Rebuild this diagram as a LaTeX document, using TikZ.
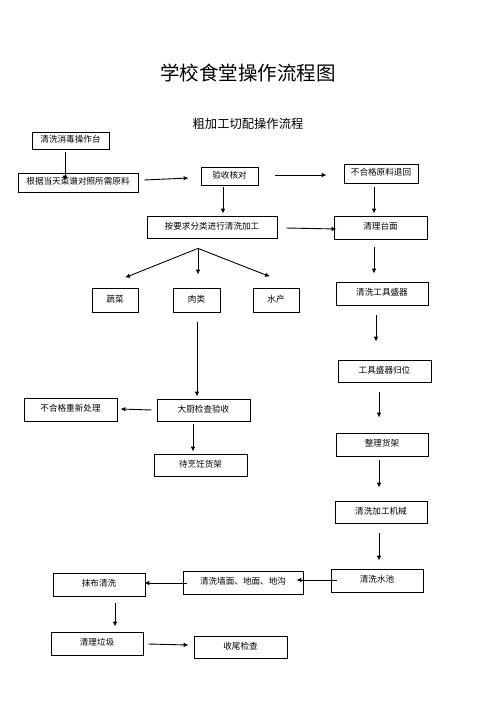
\documentclass[tikz,border=0pt]{standalone}
\usepackage{fontspec}
\newfontfamily\cjk{Noto Sans CJK SC}
\usetikzlibrary{arrows.meta}
\tikzset{
  box/.style={draw, line width=0.8pt, inner sep=0pt, font=\cjk\fontsize{8.6}{10}\selectfont,
    text height=7pt, text depth=3pt},
  arr/.style={line width=0.9pt, -{Latex[length=5pt,width=4.5pt]}},
}
\begin{document}
\begin{tikzpicture}[x=1pt,y=-1pt]
\useasboundingbox (0,0) rectangle (496,702);
\node[font=\cjk\fontsize{19.5}{22}\selectfont] (title) at (248,73) {学校食堂操作流程图};
\node[font=\cjk\fontsize{12.3}{14}\selectfont] (sub) at (248,124) {粗加工切配操作流程};

\node[box, minimum width=77pt, minimum height=17pt] (wash) at (70.5,140.5) {清洗消毒操作台};
\node[box, minimum width=120pt, minimum height=19pt] (basis) at (78,182.5) {根据当天菜谱对照所需原料};
\node[box, minimum width=57pt, minimum height=18pt] (check) at (229.5,176) {验收核对};
\node[box, minimum width=74pt, minimum height=19pt] (reject) at (381,173.5) {不合格原料退回};
\node[box, minimum width=130pt, minimum height=22pt] (classify) at (212,227) {按要求分类进行清洗加工};
\node[box, minimum width=93pt, minimum height=23pt] (table) at (380.5,227.5) {清理台面};
\node[box, minimum width=46pt, minimum height=24pt] (veg) at (115,300) {蔬菜};
\node[box, minimum width=47pt, minimum height=24pt] (meat) at (196.5,300) {肉类};
\node[box, minimum width=46pt, minimum height=24pt] (aqua) at (276,300) {水产};
\node[box, minimum width=92pt, minimum height=23pt] (tools) at (382,293.5) {清洗工具盛器};
\node[box, minimum width=93pt, minimum height=22pt] (toolsback) at (384.5,371) {工具盛器归位};
\node[box, minimum width=93pt, minimum height=22pt] (chef) at (203.5,410) {大厨检查验收};
\node[box, minimum width=93pt, minimum height=23pt] (redo) at (70.5,409.5) {不合格重新处理};
\node[box, minimum width=93pt, minimum height=22pt] (shelfwait) at (200.5,465) {待烹饪货架};
\node[box, minimum width=92pt, minimum height=23pt] (shelf) at (382,444.5) {整理货架};
\node[box, minimum width=92pt, minimum height=22pt] (machine) at (381,512) {清洗加工机械};
\node[box, minimum width=92pt, minimum height=23pt] (sink) at (377,580.5) {清洗水池};
\node[box, minimum width=120pt, minimum height=23pt] (wall) at (243,582.5) {清洗墙面、地面、地沟};
\node[box, minimum width=92pt, minimum height=23pt] (cloth) at (99,584.5) {抹布清洗};
\node[box, minimum width=92pt, minimum height=23pt] (trash) at (97,643.5) {清理垃圾};
\node[box, minimum width=93pt, minimum height=22pt] (final) at (240.5,647) {收尾检查};

\draw[arr] ([shift={(-5.5,3)}]wash.south) -- ([shift={(-13,8)}]basis.north);
\draw[arr] ([shift={(6,-2.5)}]basis.east) -- ([shift={(-12,2)}]check.west);
\draw[arr] ([shift={(17,-1)}]check.east) -- ([shift={(-17,1.5)}]reject.west);
\draw[arr] ([shift={(-6.5,2)}]check.south) -- ([shift={(11,-2)}]classify.north);
\draw[arr] ([shift={(-7,4)}]reject.south) -- ([shift={(-6.5,-2)}]table.north);
\draw[arr] ([shift={(9,1)}]classify.east) -- ([shift={(3,1.5)}]table.west);
\draw[arr] ([shift={(-14,10)}]classify.south) -- ([shift={(10,-10)}]veg.north);
\draw[arr] ([shift={(-14,10)}]classify.south) -- ([shift={(1.5,-13)}]meat.north);
\draw[arr] ([shift={(-14,10)}]classify.south) -- ([shift={(-6,-11)}]aqua.north);
\draw[arr] ([shift={(-6.5,8)}]table.south) -- ([shift={(-8,-8)}]tools.north);
\draw[arr] ([shift={(-6,10)}]tools.south) -- ([shift={(-8.5,-18)}]toolsback.north);
\draw[arr] ([shift={(-5.5,10)}]toolsback.south) -- ([shift={(-3,-15)}]shelf.north);
\draw[arr] ([shift={(-3,4)}]shelf.south) -- ([shift={(-2,-13)}]machine.north);
\draw[arr] ([shift={(-2,10)}]machine.south) -- ([shift={(2,-8)}]sink.north);
\draw[arr] ([shift={(6,-0.5)}]sink.west) -- ([shift={(-7,-2.5)}]wall.east);
\draw[arr] ([shift={(4,0.5)}]wall.west) -- ([shift={(-1,-1.5)}]cloth.east);
\draw[arr] ([shift={(16,7)}]cloth.south) -- ([shift={(18,-5)}]trash.north);
\draw[arr] ([shift={(5,0.5)}]trash.east) -- ([shift={(-5,-2)}]final.west);
\draw[arr] ([shift={(0.5,10)}]meat.south) -- ([shift={(-6.5,-2)}]chef.north);
\draw[arr] ([shift={(-5,0)}]chef.west) -- ([shift={(3,-0.5)}]redo.east);
\draw[arr] ([shift={(-10.5,3)}]chef.south) -- ([shift={(-7.5,-2)}]shelfwait.north);
\end{tikzpicture}
\end{document}
